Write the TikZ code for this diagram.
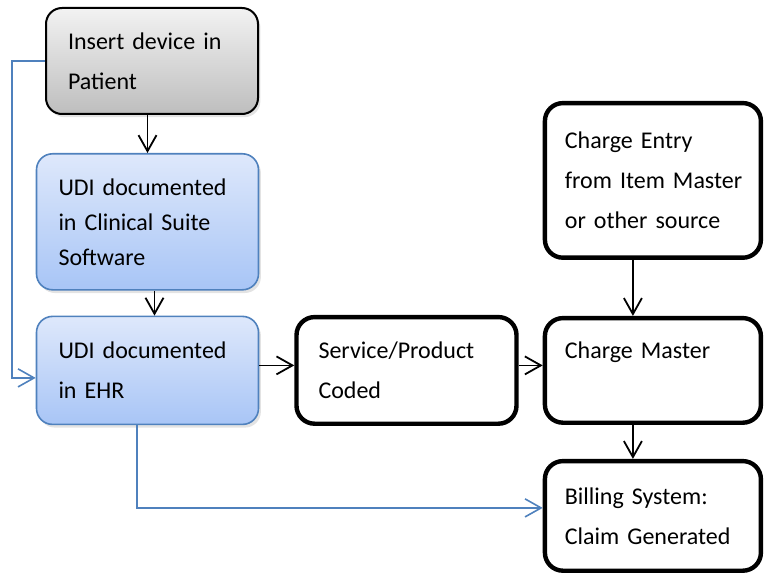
\documentclass[tikz,border=0pt]{standalone}
\usepackage{fontspec}
\setmainfont{Carlito}
\usetikzlibrary{positioning,arrows.meta,shadows}
\definecolor{udiline}{HTML}{4F81BD}
\definecolor{udilight}{HTML}{DEE8FB}
\definecolor{udideep}{HTML}{A8C5F6}
\definecolor{greylight}{HTML}{F2F2F2}
\definecolor{greydeep}{HTML}{BEBEBE}

\begin{document}
\begin{tikzpicture}[x=0.5pt,y=-0.5pt,
  font=\fontsize{12}{20}\selectfont,
  every node/.style={align=left,inner ysep=4pt},
  softshadow/.style={drop shadow={opacity=0.22,shadow xshift=1.2pt,shadow yshift=-1.6pt}},
  greybox/.style={draw,line width=1pt,rounded corners=8pt,top color=greylight,bottom color=greydeep,
    softshadow,inner xsep=11pt,text width=84pt,minimum height=53pt},
  udibox/.style={draw=udiline,line width=0.8pt,rounded corners=8pt,top color=udilight,bottom color=udideep,
    softshadow,inner xsep=11pt,text width=89pt},
  plainbox/.style={draw,line width=2.2pt,rounded corners=9pt,fill=white,inner xsep=10pt,text width=88pt},
  arr/.style={-{Straight Barb[length=8pt,width=9pt]},line width=0.9pt},
  link/.style={-{Straight Barb[length=8pt,width=9pt]},udiline,line width=0.8pt}]
\useasboundingbox (0,0) rectangle (765,577);

% clinical side
\node[greybox] (ins) at (152,61) {Insert device in\\Patient};
\node[udibox,minimum height=68pt,font=\fontsize{12}{17.5}\selectfont,below=19pt of ins,xshift=-2.25pt] (clin)
  {UDI documented\\in Clinical Suite\\Software};
\node[udibox,minimum height=54pt,below=12.5pt of clin] (ehr) {UDI documented\\in EHR};

% billing side
\node[plainbox,inner xsep=11pt,minimum height=53.3pt,right=17.5pt of ehr] (serv) {Service/Product\\Coded};
\node[plainbox,minimum height=52.3pt,right=12pt of serv] (cmast) {Charge Master\\\mbox{}};
\node[plainbox,minimum height=77.3pt,above=28pt of cmast] (cent)
  {Charge Entry\\\mbox{from Item Master}\\or other source};
\node[plainbox,minimum height=54.8pt,below=17pt of cmast] (bill) {Billing System:\\Claim Generated};

\draw[arr] (ins.south -| clin.north) -- (clin.north);
\draw[arr] ([xshift=3.5pt]clin.south) -- ([xshift=3.5pt]ehr.north);
\draw[arr] ([yshift=2.5pt]ehr.east) -- ([yshift=2.5pt]serv.west);
\draw[arr] ([yshift=2.5pt]serv.east) -- ([yshift=2.5pt]cmast.west);
\draw[arr] ([xshift=-10pt]cent.south) -- ([xshift=-10pt]cmast.north);
\draw[arr] ([xshift=-10pt]cmast.south) -- ([xshift=-10pt]bill.north);

% UDI links that skip steps
\draw[link] (ins.west) -- ++(-16.5pt,0) |- ([yshift=-3.75pt]ehr.west);
\draw[link] ([xshift=-5.25pt]ehr.south) |- ([yshift=4pt]bill.west);
\end{tikzpicture}
\end{document}
